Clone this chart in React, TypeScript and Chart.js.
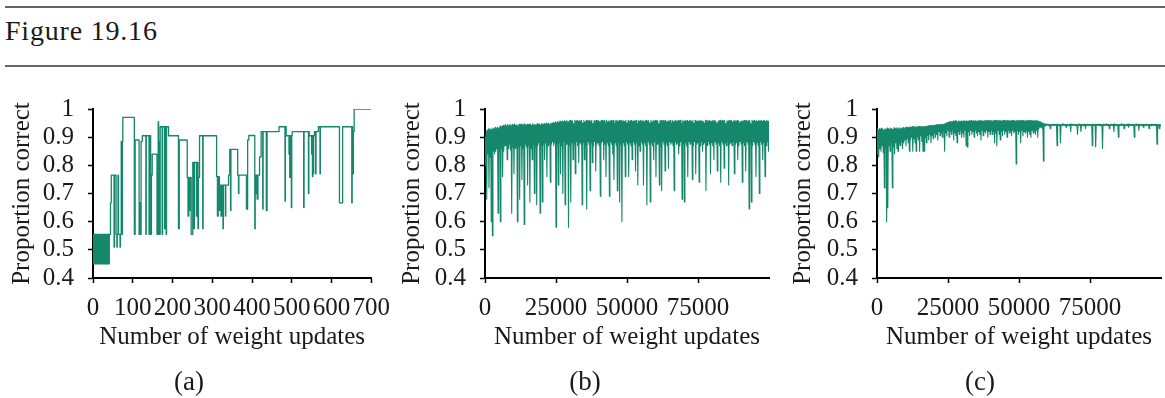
import React, { useEffect, useRef } from 'react';
import { Chart, registerables } from 'chart.js';

Chart.register(...registerables);

const FONT = '"Liberation Serif", "Times New Roman", serif';
const GREEN = '#15876a';
const INK = '#1a1a1a';

const figureTitle = 'Figure 19.16';
const xAxisTitle = 'Number of weight updates';
const yAxisTitle = 'Proportion correct';
const panelLabels = ['(a)', '(b)', '(c)'];

const yTickValues = [0.4, 0.5, 0.6, 0.7, 0.8, 0.9, 1];
const aXTicks = [0, 100, 200, 300, 400, 500, 600, 700];
const bcXTicks = [0, 25000, 50000, 75000];

// Panel (a): change points (update number, proportion correct)
const aUpdates = [
  0, 1, 2, 3, 5, 6, 7, 9, 10, 11, 12, 14, 15, 16, 17, 19, 20, 21, 23, 24, 25, 26, 28, 29, 30, 31, 33, 34, 35, 36, 38, 39, 40, 41,
  44, 46, 53, 54, 58, 60, 61, 63, 64, 68, 69, 71, 72, 74, 75,
  104, 106, 116, 118, 119, 121, 124, 133, 134, 141, 142, 145, 147, 149, 161, 164, 165, 167, 169, 174, 175, 180, 181, 184, 185, 190,
  215, 217, 237, 239, 241, 243, 245, 247, 251, 254, 255, 260, 261, 264, 265, 268, 276, 277,
  311, 313, 315, 318, 320, 322, 324, 327, 328, 333, 334, 341, 344, 346, 347, 364, 366, 367,
  386, 389, 392, 407, 408, 410, 411, 413, 415, 419, 423, 427, 428, 436, 438,
  468, 483, 484, 486, 493, 494, 495, 496, 499, 500, 501, 530, 531, 542, 543, 544, 550, 551, 552, 553, 554, 555, 557, 560, 561, 567, 571, 572,
  620, 628, 651, 652, 653, 654, 655, 657, 700,
];
const aCorrect = [
  0.45, 0.555, 0.45, 0.555, 0.45, 0.555, 0.45, 0.555, 0.45, 0.555, 0.45, 0.555, 0.45, 0.555, 0.45, 0.555, 0.45, 0.555, 0.45, 0.555, 0.45, 0.555, 0.45, 0.555, 0.45, 0.555, 0.45, 0.555, 0.45, 0.555, 0.45, 0.555, 0.45, 0.555,
  0.667, 0.765, 0.51, 0.765, 0.555, 0.51, 0.555, 0.765, 0.555, 0.51, 0.555, 0.885, 0.555, 0.885, 0.97,
  0.555, 0.89, 0.555, 0.667, 0.555, 0.885, 0.905, 0.555, 0.905, 0.555, 0.905, 0.555, 0.765, 0.84, 0.555, 0.955, 0.885, 0.555, 0.937, 0.555, 0.937, 0.575, 0.937, 0.555, 0.937, 0.905,
  0.575, 0.89, 0.757, 0.62, 0.757, 0.64, 0.757, 0.555, 0.81, 0.575, 0.81, 0.62, 0.81, 0.575, 0.757, 0.905, 0.575, 0.905,
  0.76, 0.62, 0.76, 0.64, 0.73, 0.62, 0.73, 0.575, 0.73, 0.62, 0.73, 0.765, 0.857, 0.64, 0.857, 0.765, 0.70, 0.765,
  0.645, 0.89, 0.906, 0.575, 0.765, 0.70, 0.765, 0.68, 0.765, 0.83, 0.92, 0.645, 0.92, 0.64, 0.92,
  0.937, 0.673, 0.937, 0.905, 0.84, 0.905, 0.757, 0.905, 0.65, 0.905, 0.92, 0.65, 0.92, 0.70, 0.92, 0.905, 0.84, 0.905, 0.76, 0.905, 0.77, 0.905, 0.92, 0.77, 0.92, 0.937, 0.77, 0.937,
  0.667, 0.937, 0.667, 0.937, 0.92, 0.77, 0.92, 1.0, 1.0,
];

// Panels (b) and (c): highest and lowest proportion correct (per mille)
// within each block of binSize weight updates.
const binSize = 400;
const bMax = [
  900, 920, 925, 930, 925, 930, 928, 932, 930, 935, 930, 935, 932, 938, 940, 938, 942, 940, 945, 940,
  945, 942, 946, 940, 945, 943, 947, 942, 945, 940, 946, 944, 947, 942, 945, 948, 943, 946, 944, 947,
  945, 942, 948, 944, 946, 943, 948, 945, 947, 944, 949, 946, 948, 945, 950, 947, 949, 946, 950, 948,
  952, 950, 955, 951, 956, 953, 958, 955, 957, 954, 958, 956, 959, 955, 957, 960, 956, 958, 948, 959,
  957, 960, 955, 958, 956, 960, 950, 959, 955, 958, 960, 956, 959, 957, 960, 948, 958, 956, 960, 957,
  959, 955, 958, 960, 956, 959, 950, 960, 955, 958, 956, 960, 957, 959, 948, 958, 960, 956, 959, 957,
  960, 955, 958, 956, 960, 950, 959, 955, 958, 960, 956, 959, 957, 960, 948, 958, 956, 960, 957, 959,
  955, 958, 960, 956, 959, 950, 960, 955, 958, 956, 960, 957, 959, 948, 958, 960, 956, 959, 957, 960,
  955, 958, 956, 960, 950, 959, 955, 958, 960, 956, 959, 957, 960, 948, 958, 956, 960, 957, 959, 955,
  958, 960, 956, 959, 950, 960, 955, 958, 956, 960, 957, 959, 955, 948, 960, 956, 959, 957, 960, 955,
  958, 956, 960, 957, 950, 955, 958, 960, 956, 959, 957, 960, 948, 958, 956, 960, 957, 959, 955, 958,
  960, 956, 959, 957, 950, 955, 958, 956, 960, 957, 959, 955, 958, 960, 948, 959, 957, 960, 955, 958,
  956, 960, 957, 959, 955, 958, 960, 956, 959, 957, 958,
];
const bMin = [
  800, 680, 840, 720, 830, 600, 550, 850, 840, 850, 860, 630, 850, 600, 860, 760, 850, 870, 870, 820,
  860, 875, 855, 630, 865, 770, 860, 870, 600, 865, 680, 870, 750, 860, 590, 875, 865, 730, 870, 670,
  860, 820, 875, 700, 865, 660, 870, 880, 630, 870, 670, 875, 820, 880, 760, 870, 880, 740, 875, 885,
  870, 880, 580, 875, 730, 880, 770, 870, 700, 885, 660, 875, 880, 580, 870, 670, 880, 820, 875, 770,
  885, 870, 810, 880, 875, 660, 880, 820, 870, 645, 885, 875, 710, 880, 810, 870, 885, 780, 875, 880,
  870, 690, 880, 885, 820, 875, 760, 880, 870, 690, 885, 875, 840, 750, 880, 870, 710, 885, 670, 875,
  600, 880, 870, 760, 885, 875, 760, 880, 870, 820, 885, 875, 780, 880, 730, 870, 850, 885, 875, 730,
  880, 870, 660, 885, 875, 670, 880, 870, 820, 885, 760, 875, 880, 730, 870, 710, 885, 875, 780, 880,
  870, 790, 885, 875, 880, 870, 710, 885, 875, 880, 840, 870, 885, 680, 875, 670, 880, 870, 760, 885,
  875, 880, 750, 870, 885, 770, 875, 880, 740, 870, 885, 850, 875, 880, 710, 870, 885, 875, 770, 880,
  870, 820, 885, 875, 780, 880, 870, 740, 885, 875, 790, 880, 870, 885, 730, 875, 880, 870, 885, 770,
  875, 880, 820, 870, 885, 875, 740, 880, 870, 780, 885, 875, 645, 880, 670, 870, 885, 875, 760, 880,
  870, 700, 885, 875, 820, 880, 760, 870, 885, 850, 880,
];
const cMax = [
  930, 925, 930, 928, 932, 930, 925, 930, 928, 932, 930, 928, 932, 930, 928, 933, 930, 932, 928, 933,
  930, 933, 931, 934, 930, 935, 933, 936, 934, 937, 935, 938, 936, 938, 935, 938, 937, 939, 936, 938,
  938, 937, 939, 938, 940, 939, 941, 940, 942, 941, 943, 942, 944, 943, 945, 944, 946, 945, 947, 946,
  948, 950, 952, 954, 955, 956, 955, 957, 956, 958, 957, 955, 958, 956, 957, 955, 958, 956, 957, 958,
  956, 958, 957, 959, 956, 958, 957, 959, 956, 958, 957, 959, 956, 958, 957, 960, 958, 959, 957, 960,
  958, 959, 957, 960, 958, 959, 957, 960, 958, 959, 957, 960, 958, 959, 957, 960, 958, 959, 957, 960,
  958, 959, 957, 960, 958, 959, 957, 960, 958, 959, 957, 960, 958, 959, 957, 960, 958, 959, 957, 960,
  958, 957, 956, 955, 955, 952, 950, 948, 947, 946, 946, 945, 946, 945, 947, 945, 946, 945, 946, 947,
  945, 946, 945, 946, 947, 945, 946, 945, 946, 945, 946, 947, 945, 946, 945, 946, 945, 947, 946, 945,
  946, 945, 946, 947, 945, 946, 945, 946, 945, 946, 947, 945, 946, 945, 946, 945, 947, 946, 945, 946,
  945, 946, 947, 945, 946, 945, 946, 945, 946, 947, 945, 946, 945, 946, 945, 947, 946, 945, 946, 945,
  946, 947, 945, 946, 945, 946, 945, 946, 947, 945, 946, 945, 946, 945, 946, 947, 945, 946, 945, 946,
  945, 946, 947, 945, 946, 945, 946, 945, 946, 945, 944,
];
const cMin = [
  840, 830, 860, 850, 870, 845, 720, 860, 600, 650, 870, 850, 880, 720, 865, 840, 880, 860, 850, 875,
  870, 885, 860, 880, 890, 870, 895, 880, 850, 890, 900, 850, 895, 880, 850, 900, 890, 850, 905, 885,
  850, 850, 900, 880, 905, 890, 910, 880, 905, 895, 915, 900, 910, 890, 920, 905, 915, 900, 920, 850,
  915, 905, 925, 900, 920, 910, 925, 890, 915, 905, 880, 920, 910, 925, 900, 915, 900, 925, 870, 865,
  920, 905, 925, 910, 920, 900, 925, 915, 905, 920, 910, 890, 925, 905, 920, 915, 925, 900, 920, 910,
  925, 910, 920, 880, 915, 870, 925, 910, 890, 920, 905, 925, 910, 920, 900, 925, 915, 920, 905, 925,
  915, 920, 805, 925, 910, 920, 880, 925, 905, 920, 915, 925, 900, 920, 910, 900, 925, 915, 920, 910,
  925, 900, 930, 935, 935, 930, 815, 938, 940, 942, 942, 941, 930, 942, 941, 942, 941, 942, 870, 942,
  941, 880, 942, 941, 942, 941, 935, 942, 941, 942, 920, 942, 941, 942, 941, 942, 910, 942, 941, 920,
  942, 941, 942, 930, 941, 942, 941, 942, 941, 870, 942, 941, 865, 942, 941, 942, 941, 942, 860, 942,
  941, 942, 941, 942, 930, 941, 942, 941, 920, 942, 941, 942, 900, 941, 942, 941, 942, 930, 941, 942,
  941, 935, 942, 941, 942, 941, 900, 942, 941, 942, 925, 941, 942, 941, 935, 942, 941, 942, 941, 930,
  942, 941, 942, 941, 942, 941, 875, 942, 930, 941, 940,
];

type Pt = { x: number; y: number };

function fromPairs(xs: number[], ys: number[]): Pt[] {
  return xs.map((x, i) => ({ x, y: ys[i] }));
}
function fromBins(maxs: number[], mins: number[], size: number): Pt[] {
  const out: Pt[] = [];
  maxs.forEach((hi, i) => {
    out.push({ x: i * size, y: hi / 1000 });
    out.push({ x: i * size + size / 2, y: mins[i] / 1000 });
  });
  return out;
}

type PanelProps = {
  left: number;
  width: number;
  axisLeft: number;
  axisRight: number;
  points: Pt[];
  xMax: number;
  xTicks: number[];
  stepped: boolean;
  lineWidth: number;
};

const TOP = 80;
const HEIGHT = 318;
const PLOT_TOP = 103;
const PLOT_BOTTOM = 278;

function Panel({ left, width, axisLeft, axisRight, points, xMax, xTicks, stepped, lineWidth }: PanelProps) {
  const ref = useRef<HTMLCanvasElement | null>(null);
  useEffect(() => {
    if (!ref.current) return;
    const tickFont = { family: FONT, size: 25 };
    const chart = new Chart(ref.current, {
      type: 'line',
      data: {
        datasets: [
          {
            data: points as any,
            borderColor: GREEN,
            borderWidth: lineWidth,
            borderJoinStyle: 'round',
            pointRadius: 0,
            fill: false,
            tension: 0,
            stepped: stepped ? 'before' : false,
          },
        ],
      },
      options: {
        animation: false,
        responsive: false,
        maintainAspectRatio: false,
        events: [],
        layout: { padding: { left: 0, right: left + width - axisRight, top: PLOT_TOP - TOP, bottom: 0 } },
        plugins: { legend: { display: false }, tooltip: { enabled: false } },
        scales: {
          x: {
            type: 'linear',
            min: 0,
            max: xMax,
            afterBuildTicks: (s: any) => {
              s.ticks = xTicks.map((v) => ({ value: v }));
            },
            afterFit: (s: any) => {
              s.height = TOP + HEIGHT - PLOT_BOTTOM;
            },
            ticks: {
              autoSkip: false,
              maxRotation: 0,
              padding: 10,
              color: INK,
              font: tickFont,
              callback: (v: any) => String(v),
            },
            grid: { drawOnChartArea: false, drawTicks: true, tickLength: 5, tickColor: '#000', tickWidth: 1.5 },
            border: { display: true, color: '#000', width: 2 },
            title: {
              display: true,
              text: xAxisTitle,
              color: INK,
              font: { family: FONT, size: 25 },
              padding: { top: 0, bottom: 46 },
            },
          },
          y: {
            type: 'linear',
            min: 0.4,
            max: 1,
            afterBuildTicks: (s: any) => {
              s.ticks = yTickValues.map((v) => ({ value: v }));
            },
            afterFit: (s: any) => {
              s.width = axisLeft - left;
            },
            ticks: {
              autoSkip: false,
              padding: 14,
              color: INK,
              font: tickFont,
              callback: (v: any) => String(Number(Number(v).toFixed(1))),
            },
            grid: { drawOnChartArea: false, drawTicks: true, tickLength: 5, tickColor: '#000', tickWidth: 1.5 },
            border: { display: true, color: '#000', width: 2 },
            title: {
              display: true,
              text: yAxisTitle,
              color: INK,
              font: { family: FONT, size: 25 },
              padding: { top: 7, bottom: 0 },
            },
          },
        },
      } as any,
    });
    return () => chart.destroy();
  }, []);
  return (
    <canvas
      ref={ref}
      width={width}
      height={HEIGHT}
      style={{ position: 'absolute', left, top: TOP, width, height: HEIGHT, display: 'block' }}
    />
  );
}

const labelCenters = [189, 585, 980];

export default function App() {
  const aPoints = fromPairs(aUpdates, aCorrect);
  const bPoints = fromBins(bMax, bMin, binSize);
  const cPoints = fromBins(cMax, cMin, binSize);
  return (
    <div style={{ position: 'absolute', left: 0, top: 0, width: 1165, height: 398, background: '#fff', overflow: 'hidden' }}>
      <div style={{ position: 'absolute', left: 5, right: 0, top: 6, height: 0, borderTop: '2px solid #666' }} />
      <div
        style={{
          position: 'absolute',
          left: 5,
          top: 13,
          fontFamily: FONT,
          fontSize: 28,
          letterSpacing: 0.8,
          lineHeight: '36px',
          color: INK,
          whiteSpace: 'nowrap',
        }}
      >
        {figureTitle}
      </div>
      <div style={{ position: 'absolute', left: 5, right: 0, top: 65, height: 0, borderTop: '2px solid #666' }} />
      <Panel left={0} width={400} axisLeft={93} axisRight={378} points={aPoints} xMax={700} xTicks={aXTicks} stepped lineWidth={1.3} />
      <Panel left={390} width={390} axisLeft={485} axisRight={769} points={bPoints} xMax={100000} xTicks={bcXTicks} stepped={false} lineWidth={1.1} />
      <Panel left={781} width={384} axisLeft={877} axisRight={1161} points={cPoints} xMax={100000} xTicks={bcXTicks} stepped={false} lineWidth={1.1} />
      {panelLabels.map((t, i) => (
        <div
          key={t}
          style={{
            position: 'absolute',
            left: labelCenters[i] - 40,
            width: 80,
            top: 364,
            textAlign: 'center',
            fontFamily: FONT,
            fontSize: 27,
            lineHeight: '34px',
            color: INK,
          }}
        >
          {t}
        </div>
      ))}
    </div>
  );
}
